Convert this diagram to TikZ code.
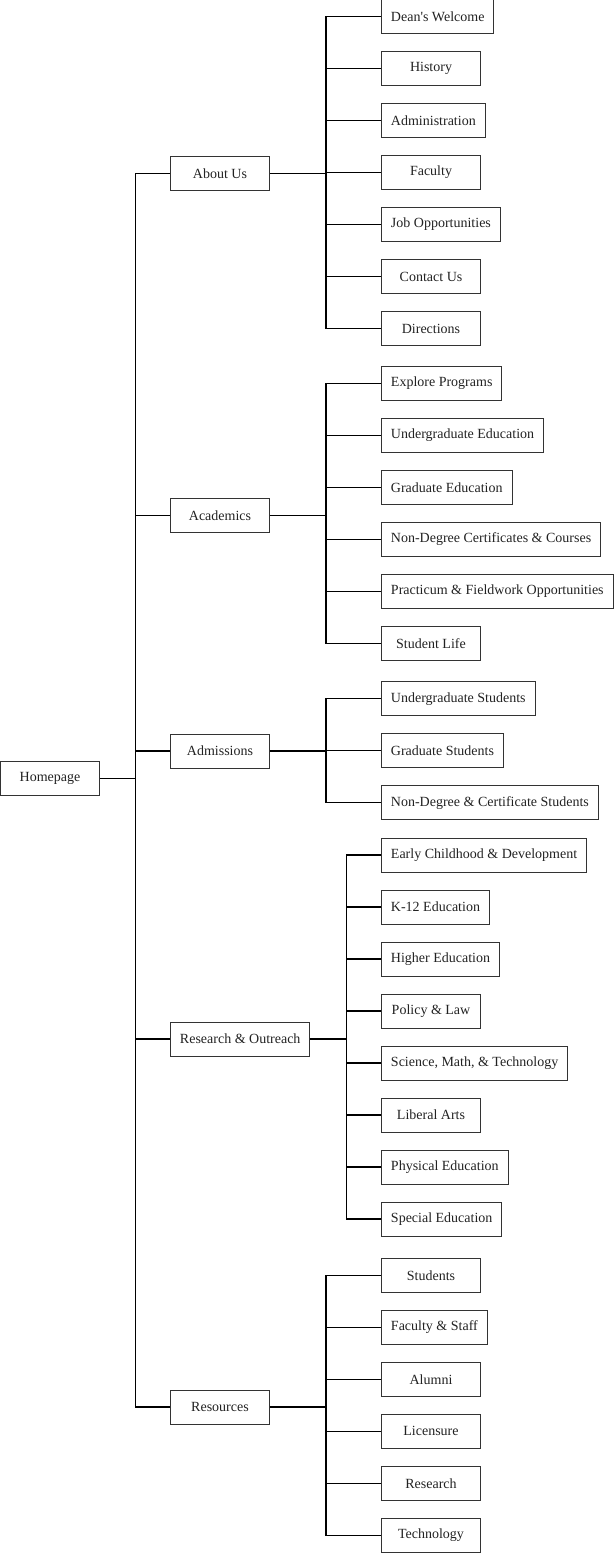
\documentclass[tikz,border=0pt]{standalone}
\usepackage{fontspec}
\newfontfamily\pagefont{Liberation Serif}
\usetikzlibrary{positioning}

\definecolor{boxline}{HTML}{333333}
\definecolor{pagetext}{HTML}{222222}

\begin{document}
\begin{tikzpicture}[x=0.75pt,y=-0.75pt,
	page/.style={draw=boxline,line width=0.75pt,text=pagetext,font=\pagefont\fontsize{10.5}{12}\selectfont,
		minimum width=74.25pt,minimum height=25.5pt,inner xsep=7.1pt,inner ysep=0pt,anchor=west},
	link/.style={black,line width=0.8pt}]
	%    \draw[step=50,gray,very thin] (0,0) grid (614,1555);
	\useasboundingbox (0,0) rectangle (614,1555);
	
	\node[page] (home) at (0,778.5) {Homepage};
	
	\node[page] (about) at (170,173.5) {About Us};
	\node[page] (acad) at (170,515.3) {Academics};
	\node[page] (admis) at (170,751) {Admissions};
	\node[page] (resout) at (170,1039) {Research \& Outreach};
	\node[page] (resour) at (170,1407) {Resources};
	
	\node[page] (dean) at (381,16.5) {Dean's Welcome};
	\node[page] (hist) at (381,68.5) {History};
	\node[page] (admin) at (381,120.5) {Administration};
	\node[page] (fac) at (381,172.5) {Faculty};
	\node[page] (jobs) at (381,224.5) {Job Opportunities};
	\node[page] (contact) at (381,276.5) {Contact Us};
	\node[page] (dirs) at (381,328.5) {Directions};
	
	\node[page] (explore) at (381,383.3) {Explore Programs};
	\node[page] (ugedu) at (381,435.3) {Undergraduate Education};
	\node[page] (gradedu) at (381,487.3) {Graduate Education};
	\node[page] (ndcert) at (381,539.3) {Non-Degree Certificates \& Courses};
	\node[page] (pract) at (381,591.3) {Practicum \& Fieldwork Opportunities};
	\node[page] (stlife) at (381,643.3) {Student Life};
	
	\node[page] (ugstud) at (381,698.7) {Undergraduate Students};
	\node[page] (gradstud) at (381,750.7) {Graduate Students};
	\node[page] (ndstud) at (381,802.7) {Non-Degree \& Certificate Students};
	
	\node[page] (early) at (381,855) {Early Childhood \& Development};
	\node[page] (ktwelve) at (381,907) {K-12 Education};
	\node[page] (higher) at (381,959) {Higher Education};
	\node[page] (policy) at (381,1011) {Policy \& Law};
	\node[page] (science) at (381,1063) {Science, Math, \& Technology};
	\node[page] (libarts) at (381,1115) {Liberal Arts};
	\node[page] (physed) at (381,1167) {Physical Education};
	\node[page] (speced) at (381,1219) {Special Education};
	
	\node[page] (students) at (381,1275.3) {Students};
	\node[page] (facstaff) at (381,1327.3) {Faculty \& Staff};
	\node[page] (alumni) at (381,1379.3) {Alumni};
	\node[page] (licens) at (381,1431.3) {Licensure};
	\node[page] (research) at (381,1483.3) {Research};
	\node[page] (tech) at (381,1535.3) {Technology};
	
	\coordinate (homebar) at (135.5,778.5);
	\coordinate (aboutbar) at (326,173.5);
	\coordinate (acadbar) at (326,515.3);
	\coordinate (admisbar) at (326,751);
	\coordinate (resoutbar) at (346.5,1039);
	\coordinate (resourbar) at (326,1407);
	
	\draw[link] (home.east) -- (homebar);
	\draw[link] (about.west) -| (homebar);
	\draw[link] (acad.west) -| (homebar);
	\draw[link] (admis.west) -| (homebar);
	\draw[link] (resout.west) -| (homebar);
	\draw[link] (resour.west) -| (homebar);
	
	\draw[link] (about.east) -- (aboutbar);
	\draw[link] (dean.west) -| (aboutbar);
	\draw[link] (hist.west) -| (aboutbar);
	\draw[link] (admin.west) -| (aboutbar);
	\draw[link] (fac.west) -| (aboutbar);
	\draw[link] (jobs.west) -| (aboutbar);
	\draw[link] (contact.west) -| (aboutbar);
	\draw[link] (dirs.west) -| (aboutbar);
	
	\draw[link] (acad.east) -- (acadbar);
	\draw[link] (explore.west) -| (acadbar);
	\draw[link] (ugedu.west) -| (acadbar);
	\draw[link] (gradedu.west) -| (acadbar);
	\draw[link] (ndcert.west) -| (acadbar);
	\draw[link] (pract.west) -| (acadbar);
	\draw[link] (stlife.west) -| (acadbar);
	
	\draw[link] (admis.east) -- (admisbar);
	\draw[link] (ugstud.west) -| (admisbar);
	\draw[link] (gradstud.west) -| (admisbar);
	\draw[link] (ndstud.west) -| (admisbar);
	
	\draw[link] (resout.east) -- (resoutbar);
	\draw[link] (early.west) -| (resoutbar);
	\draw[link] (ktwelve.west) -| (resoutbar);
	\draw[link] (higher.west) -| (resoutbar);
	\draw[link] (policy.west) -| (resoutbar);
	\draw[link] (science.west) -| (resoutbar);
	\draw[link] (libarts.west) -| (resoutbar);
	\draw[link] (physed.west) -| (resoutbar);
	\draw[link] (speced.west) -| (resoutbar);
	
	\draw[link] (resour.east) -- (resourbar);
	\draw[link] (students.west) -| (resourbar);
	\draw[link] (facstaff.west) -| (resourbar);
	\draw[link] (alumni.west) -| (resourbar);
	\draw[link] (licens.west) -| (resourbar);
	\draw[link] (research.west) -| (resourbar);
	\draw[link] (tech.west) -| (resourbar);
	
\end{tikzpicture}
\end{document}
